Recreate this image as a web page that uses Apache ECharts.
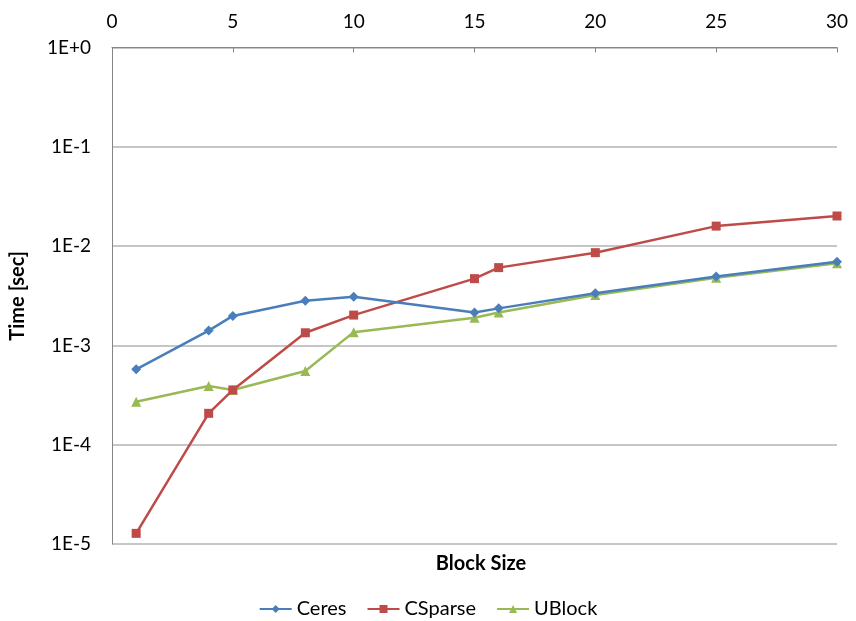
<!DOCTYPE html>
<html>
<head>
<meta charset="utf-8">
<script src="https://cdn.jsdelivr.net/npm/echarts@6/dist/echarts.min.js"></script>
<style>html,body{margin:0;padding:0;background:#fff;}#c{width:856px;height:621px;}</style>
</head>
<body>
<div id="c"></div>
<script>
const blockSizes = [1, 4, 5, 8, 10, 15, 16, 20, 25, 30];
const ceres   = [5.74e-4, 1.41e-3, 1.98e-3, 2.82e-3, 3.09e-3, 2.14e-3, 2.36e-3, 3.35e-3, 4.95e-3, 6.95e-3];
const csparse = [1.28e-5, 2.07e-4, 3.56e-4, 1.34e-3, 2.02e-3, 4.7e-3, 6.07e-3, 8.59e-3, 1.59e-2, 2.01e-2];
const ublock  = [2.71e-4, 3.9e-4, 3.56e-4, 5.52e-4, 1.36e-3, 1.9e-3, 2.14e-3, 3.22e-3, 4.8e-3, 6.7e-3];
const seriesNames = ['Ceres', 'CSparse', 'UBlock'];
const xTicks = [0, 5, 10, 15, 20, 25, 30];
const yName = 'Time [sec]';
const xName = 'Block Size';

const FONT = 'Lato, "Open Sans", sans-serif';
const colors = ['#4A7EBB', '#BE4B48', '#98B954'];
const symbols = ['diamond', 'rect', 'triangle'];
const symbolSizes = [10, 9, 10];
const values = [ceres, csparse, ublock];

const chart = echarts.init(document.getElementById('c'), null, {renderer: 'canvas'});
chart.setOption({
  animation: false,
  backgroundColor: '#fff',
  textStyle: {fontFamily: FONT},
  grid: {left: 111, right: 19, top: 47.5, bottom: 77},
  title: {
    text: xName, left: 476, top: 549, textAlign: 'center',
    textStyle: {fontFamily: FONT, fontSize: 20, fontWeight: 'bold', color: '#000'}
  },
  legend: {
    top: 594, left: 'center', itemWidth: 32, itemHeight: 10, itemGap: 20,
    textStyle: {fontFamily: FONT, fontSize: 20, color: '#000'},
    data: seriesNames
  },
  xAxis: {
    type: 'value', position: 'top', min: 0, max: 30, interval: 5,
    axisLine: {show: true, lineStyle: {color: '#868686', width: 1}},
    axisTick: {show: true, inside: true, length: 5, lineStyle: {color: '#868686'}},
    axisLabel: {fontFamily: FONT, fontSize: 19, color: '#000', margin: 16,
      formatter: v => xTicks.includes(v) ? String(v) : ''},
    splitLine: {show: false}
  },
  yAxis: {
    type: 'log', logBase: 10, min: 1e-5, max: 1,
    name: yName, nameLocation: 'middle', nameGap: 84, nameRotate: 90,
    nameTextStyle: {fontFamily: FONT, fontSize: 20, fontWeight: 'bold', color: '#000'},
    axisLine: {show: true, lineStyle: {color: '#868686', width: 1}},
    axisTick: {show: false},
    axisLabel: {fontFamily: FONT, fontSize: 19, color: '#000', margin: 21,
      formatter: v => { const e = Math.round(Math.log10(v)); return '1E' + (e >= 0 ? '+' + e : e); }},
    splitLine: {show: true, lineStyle: {color: '#B3B3B3', width: 1.5}}
  },
  series: seriesNames.map((n, i) => ({
    name: n, type: 'line',
    data: blockSizes.map((x, j) => [x, values[i][j]]),
    symbol: symbols[i], symbolSize: symbolSizes[i], showSymbol: true,
    itemStyle: {color: colors[i]},
    lineStyle: {color: colors[i], width: 2.5},
    z: 3 - i
  }))
});
</script>
</body>
</html>
